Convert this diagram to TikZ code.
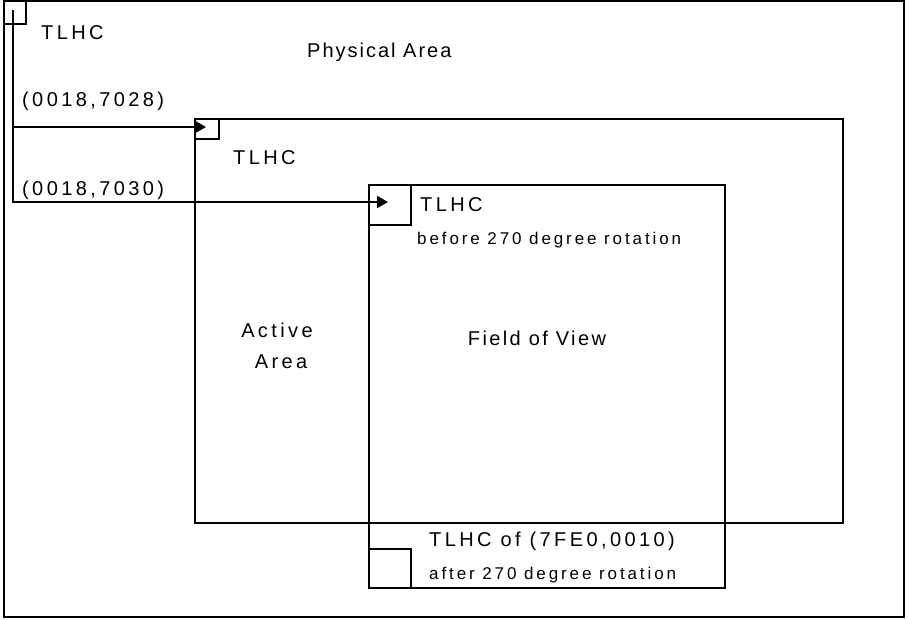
\documentclass[tikz,border=0pt]{standalone}
\usepackage{fontspec}
\setmainfont{Liberation Sans}
\newfontfamily\lblfont[LetterSpace=17]{Liberation Sans}
\usetikzlibrary{arrows.meta}
\begin{document}
\begin{tikzpicture}[x=1pt,y=-1pt,
  frame/.style={draw,line width=1.2pt,inner sep=0pt,outer sep=0pt,anchor=north west},
  box/.style={draw,line width=2.2pt,inner sep=0pt,outer sep=0pt,anchor=north west},
  big/.style={inner sep=0pt,font=\lblfont\fontsize{20}{22}\selectfont},
  small/.style={inner sep=0pt,font=\lblfont\fontsize{17}{19}\selectfont},
  conn/.style={line width=2.2pt},
  tip/.style={-{Triangle[length=11pt,width=12pt]}}]
\useasboundingbox (0,0) rectangle (909,619);
% rectangles
\node[frame,minimum width=900pt,minimum height=616pt] (phys) at (4,1) {};
\node[box,line width=1.8pt,minimum width=22pt,minimum height=23pt] (physsq) at (4,1) {};
\node[box,minimum width=648pt,minimum height=404pt] (active) at (195,119) {};
\node[box,minimum width=24pt,minimum height=20pt] (activesq) at (195,119) {};
\node[box,minimum width=356pt,minimum height=403pt] (fov) at (369,185) {};
\node[box,minimum width=42pt,minimum height=40pt] (fovsq) at (369,185) {};
\node[box,minimum width=42pt,minimum height=39pt] (rotsq) at (369,549) {};
% connector points
\coordinate (v0) at (13,10);
\coordinate (j1) at (13,127);
\coordinate (j2) at (13,202);
\coordinate (t1) at (206,127);
\coordinate (t2) at (388,202);
\draw[conn,tip] (v0) -- (j2) -- (t2);
\draw[conn,tip] (j1) -- (t1);
% labels
\node[big,anchor=west] (l1) at (41,33) {TLHC};
\node[big,anchor=west] (l2) at (307,52) {\addfontfeature{LetterSpace=10}Physical Area};
\node[big,anchor=west] (l3) at (22,101) {(0018,7028)};
\node[big,anchor=west] (l4) at (233,158) {TLHC};
\node[big,anchor=west] (l5) at (22,190) {(0018,7030)};
\node[big,anchor=west] (l6) at (420,205) {TLHC};
\node[small,anchor=west] (l7) at (417,240) {before 270 degree rotation};
\node[big] (l8) at (277,330) {Active};
\node[big] (l9) at (281,362) {Area};
\node[big] (l10) at (537,338) {\addfontfeature{LetterSpace=12}Field of View};
\node[big,anchor=west] (l11) at (429,541) {TLHC of (7FE0,0010)};
\node[small,anchor=west] (l12) at (429,575) {after 270 degree rotation};
\end{tikzpicture}
\end{document}
